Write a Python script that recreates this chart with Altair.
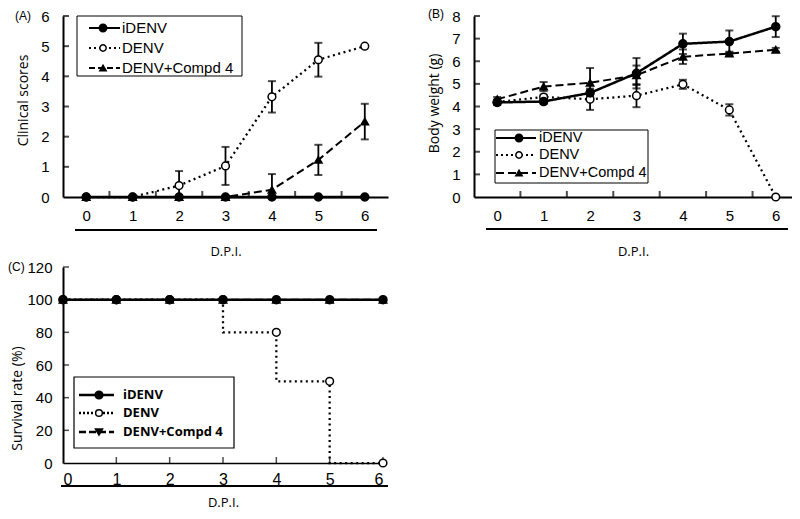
import altair as alt
import pandas as pd

# ---------------- data ----------------
days = [0, 1, 2, 3, 4, 5, 6]
series_names = ["iDENV", "DENV", "DENV+Compd 4"]

# (A) clinical scores (mean, error)
score_idenv = [0, 0, 0, 0, 0, 0, 0]
score_idenv_err = [0, 0, 0, 0, 0, 0, 0]
score_denv = [0, 0, 0.38, 1.03, 3.32, 4.55, 5.0]
score_denv_err = [0, 0, 0.48, 0.63, 0.52, 0.56, 0]
score_compd = [0, 0, 0, 0, 0.24, 1.23, 2.5]
score_compd_err = [0, 0, 0, 0, 0.52, 0.5, 0.59]

# (B) body weight (g)
weight_idenv = [4.18, 4.22, 4.6, 5.47, 6.77, 6.87, 7.53]
weight_idenv_err = [0.12, 0.1, 0.12, 0.67, 0.45, 0.49, 0.46]
weight_denv = [4.2, 4.42, 4.32, 4.48, 4.98, 3.85, 0]
weight_denv_err = [0.1, 0.1, 0.47, 0.51, 0.2, 0.25, 0]
weight_compd = [4.32, 4.88, 5.05, 5.38, 6.2, 6.34, 6.51]
weight_compd_err = [0.1, 0.2, 0.65, 0.43, 0.32, 0.08, 0.08]

# (C) survival rate (%)
surv_idenv = [100, 100, 100, 100, 100, 100, 100]
surv_denv = [100, 100, 100, 100, 80, 50, 0]
surv_compd = [100, 100, 100, 100, 100, 100, 100]

# axis tick values
score_ticks = [0, 1, 2, 3, 4, 5, 6]
weight_ticks = [0, 1, 2, 3, 4, 5, 6, 7, 8]
surv_ticks = [0, 20, 40, 60, 80, 100, 120]
band_edges = [0.5, 1.5, 2.5, 3.5, 4.5, 5.5]

# ---------------- helpers ----------------
LABEL_FONT = "Liberation Sans"
TITLE_FONT = "Open Sans"


def long_df(vals, errs, clip0=False):
    rows = []
    # draw order: Compd first, iDENV last (on top)
    for name, v, e in reversed(list(zip(series_names, vals, errs))):
        for d, y, s in zip(days, v, e):
            lo = y - s
            if clip0:
                lo = max(lo, 0)
            rows.append(dict(series=name, day=d, value=y, lo=lo, hi=y + s, err=s))
    return pd.DataFrame(rows)


def legend_layers(box, rows, seg, mark_x, text_x, font, fsize, weight,
                  dashes, widths, shapes, fills, msizes, box_w=1):
    layers = [
        alt.Chart(pd.DataFrame({"s": ["box"]}))
        .mark_rect(fill="white", stroke="black", strokeWidth=box_w)
        .encode(x=alt.value(box[0]), x2=alt.value(box[1]),
                y=alt.value(box[2]), y2=alt.value(box[3]))
    ]
    for i, name in enumerate(series_names):
        base = alt.Chart(pd.DataFrame({"s": [name]}))
        layers.append(
            base.mark_rule(color="black", strokeWidth=widths[i], strokeDash=dashes[i])
            .encode(x=alt.value(seg[0]), x2=alt.value(seg[1]), y=alt.value(rows[i]))
        )
        layers.append(
            base.mark_point(shape=shapes[i], filled=True, fill=fills[i], stroke="black",
                            strokeWidth=1.5, size=msizes[i], opacity=1)
            .encode(x=alt.value(mark_x), y=alt.value(rows[i]))
        )
        layers.append(
            base.mark_text(align="left", baseline="middle", font=font, fontSize=fsize,
                           fontWeight=weight, color="black")
            .encode(x=alt.value(text_x), y=alt.value(rows[i]), text="s:N")
        )
    return layers


def panel_label(text, x, y):
    return (alt.Chart(pd.DataFrame({"t": [text]}))
            .mark_text(align="left", baseline="middle", font=LABEL_FONT, fontSize=12, color="black")
            .encode(x=alt.value(x), y=alt.value(y), text="t:N"))


dash_scale = alt.Scale(domain=series_names, range=[[1, 0], [2, 3.5], [8, 4]])
width_scale = alt.Scale(domain=series_names, range=[2.5, 2, 2.5])
shape_scale = alt.Scale(domain=series_names, range=["circle", "circle", "triangle-up"])
fill_scale = alt.Scale(domain=series_names, range=["black", "white", "black"])
size_scale = alt.Scale(domain=series_names, range=[64, 55, 50])


def day_panel(df, W, H, x_dom, y_dom, y_ticks, y_title, title_y, underline_y, legend, label):
    xs = alt.Scale(domain=x_dom, nice=False, zero=False)
    ys = alt.Scale(domain=y_dom, nice=False, zero=False)
    x_axis = alt.Axis(values=days, format="d", labelPadding=11, title="D.P.I.",
                      titlePadding=22, titleFontSize=13, labelFontSize=15)
    y_axis = alt.Axis(values=y_ticks, format="d", labelPadding=14, title=y_title,
                      titlePadding=10, labelFontSize=15, titleY=title_y)

    def X(f):
        return alt.X(f, type="quantitative", scale=xs, axis=x_axis)

    def Y(f):
        return alt.Y(f, type="quantitative", scale=ys, axis=y_axis)

    xt = (alt.Chart(pd.DataFrame({"day": band_edges}))
          .mark_tick(orient="vertical", size=6, thickness=2, color="black")
          .encode(x=X("day"), y=alt.value(H - 3)))
    yt = (alt.Chart(pd.DataFrame({"value": y_ticks[1:]}))
          .mark_tick(orient="horizontal", size=6, thickness=2, color="black")
          .encode(y=Y("value"), x=alt.value(3)))
    underline = (alt.Chart(pd.DataFrame({"s": ["u"]}))
                 .mark_rule(color="black", strokeWidth=2)
                 .encode(x=alt.value(12), x2=alt.value(314), y=alt.value(underline_y)))

    base = alt.Chart(df)
    lines = base.mark_line(color="black").encode(
        x=X("day"), y=Y("value"),
        strokeDash=alt.StrokeDash("series:N", scale=dash_scale, legend=None),
        strokeWidth=alt.StrokeWidth("series:N", scale=width_scale, legend=None),
        detail="series:N",
    )
    eb = base.transform_filter("datum.err > 0")
    bars = eb.mark_rule(color="black", strokeWidth=1.8).encode(
        x=X("day"), y=Y("lo"), y2="hi")
    cap_hi = eb.mark_tick(orient="horizontal", size=8, thickness=2, color="black").encode(
        x=X("day"), y=Y("hi"))
    cap_lo = eb.transform_filter("datum.lo > 0").mark_tick(
        orient="horizontal", size=8, thickness=2, color="black").encode(x=X("day"), y=Y("lo"))
    pts = base.mark_point(filled=True, stroke="black", strokeWidth=1.5, opacity=1).encode(
        x=X("day"), y=Y("value"),
        shape=alt.Shape("series:N", scale=shape_scale, legend=None),
        fill=alt.Fill("series:N", scale=fill_scale, legend=None),
        size=alt.Size("series:N", scale=size_scale, legend=None),
    )
    layers = [underline, xt, yt, lines, bars, cap_hi, cap_lo, pts] + legend + [label]
    return alt.layer(*layers).properties(width=W, height=H)


# ---------------- panel A ----------------
HA = 181
dfA = long_df([score_idenv, score_denv, score_compd],
              [score_idenv_err, score_denv_err, score_compd_err], clip0=True)
legA = legend_layers(box=[14, 179, 0, 60], rows=[12, 32, 52], seg=[26, 57], mark_x=40,
                     text_x=59, font=LABEL_FONT, fsize=15, weight="normal",
                     dashes=[[1, 0], [2, 3], [6, 3]], widths=[2, 2, 2],
                     shapes=["circle", "circle", "triangle-up"],
                     fills=["black", "white", "black"], msizes=[55, 40, 40])
panelA = day_panel(dfA, 325, HA, [-0.5, 6.5], [0, 6], score_ticks, "Clinical scores", 84,
                   HA + 33, legA, panel_label("(A)", -48, 0))

# ---------------- panel B ----------------
HB = 181
dfB = long_df([weight_idenv, weight_denv, weight_compd],
              [weight_idenv_err, weight_denv_err, weight_compd_err])
legB = legend_layers(box=[21, 174, HB - 67, HB - 14], rows=[HB - 59, HB - 42, HB - 24],
                     seg=[22, 62], mark_x=45, text_x=65, font=LABEL_FONT, fsize=14.5,
                     weight="normal", dashes=[[1, 0], [2, 3], [8, 4]], widths=[2, 2, 2],
                     shapes=["circle", "circle", "triangle-up"],
                     fills=["black", "white", "black"], msizes=[55, 40, 40])
panelB = day_panel(dfB, 318, HB, [-0.5, 6.35], [0, 8], weight_ticks, "Body weight (g)", 87,
                   HB + 32, legB, panel_label("(B)", -46, -2))

# ---------------- panel C ----------------
WC, HC = 320, 196
rowsC = []
for name, v in reversed(list(zip(series_names, [surv_idenv, surv_denv, surv_compd]))):
    for d, y in zip(days, v):
        rowsC.append(dict(series=name, day=d, value=y))
dfC = pd.DataFrame(rowsC)

xsC = alt.Scale(domain=[0, 6], nice=False, zero=False)
ysC = alt.Scale(domain=[0, 120], nice=False, zero=False)
x_axisC = alt.Axis(values=days, format="d", labelPadding=8, labelFontSize=16, title="D.P.I.",
                   titlePadding=9, titleFontSize=13, domainWidth=1.5)
y_axisC = alt.Axis(values=surv_ticks, format="d", labelPadding=11, labelFontSize=15,
                   title="Survival rate (%)", titlePadding=2, titleY=131)


def XC(f):
    return alt.X(f, type="quantitative", scale=xsC, axis=x_axisC)


def YC(f):
    return alt.Y(f, type="quantitative", scale=ysC, axis=y_axisC)


dashC = alt.Scale(domain=series_names, range=[[1, 0], [2, 2], [8, 4]])
widthC = alt.Scale(domain=series_names, range=[3, 2.5, 2.5])
shapeC = alt.Scale(domain=series_names, range=["circle", "circle", "triangle-down"])
sizeC = alt.Scale(domain=series_names, range=[80, 65, 60])

xtC = (alt.Chart(pd.DataFrame({"day": days[1:]}))
       .mark_tick(orient="vertical", size=6, thickness=1.5, color="black")
       .encode(x=XC("day"), y=alt.value(HC - 3)))
ytC = (alt.Chart(pd.DataFrame({"value": surv_ticks[1:]}))
       .mark_tick(orient="horizontal", size=6, thickness=1.5, color="black")
       .encode(y=YC("value"), x=alt.value(3)))
underlineC = (alt.Chart(pd.DataFrame({"s": ["u"]}))
              .mark_rule(color="black", strokeWidth=2)
              .encode(x=alt.value(-2), x2=alt.value(325), y=alt.value(HC + 23)))
baseC = alt.Chart(dfC)
linesC = baseC.mark_line(color="black", interpolate="step-before").encode(
    x=XC("day"), y=YC("value"),
    strokeDash=alt.StrokeDash("series:N", scale=dashC, legend=None),
    strokeWidth=alt.StrokeWidth("series:N", scale=widthC, legend=None),
    detail="series:N",
)
ptsC = baseC.mark_point(filled=True, stroke="black", strokeWidth=1.5, opacity=1).encode(
    x=XC("day"), y=YC("value"),
    shape=alt.Shape("series:N", scale=shapeC, legend=None),
    fill=alt.Fill("series:N", scale=fill_scale, legend=None),
    size=alt.Size("series:N", scale=sizeC, legend=None),
)
legC = legend_layers(box=[11, 171, 110, 181], rows=[128, 146, 165], seg=[16, 51], mark_x=36,
                     text_x=60, font=TITLE_FONT, fsize=13, weight="bold",
                     dashes=[[1, 0], [2, 2], [7, 3]], widths=[2.5, 2.5, 2.5],
                     shapes=["circle", "circle", "triangle-down"],
                     fills=["black", "white", "black"], msizes=[60, 45, 50], box_w=1.2)
panelC = alt.layer(underlineC, xtC, ytC, linesC, ptsC, *legC,
                   panel_label("(C)", -55, 0)).properties(width=WC, height=HC)

chart = (
    alt.concat(panelA, panelB, panelC, columns=2, spacing={"row": 70, "column": 86},
               bounds="flush")
    .properties(padding=0)
    .configure_view(strokeWidth=0)
    .configure_axis(domainColor="black", domainWidth=2, ticks=False, tickSize=0, grid=False,
                    labelColor="black", labelFont=LABEL_FONT, titleColor="black",
                    titleFont=TITLE_FONT, titleFontWeight="normal", titleFontSize=14)
)

chart.save("out.html", embed_options={"renderer": "svg", "actions": False})
